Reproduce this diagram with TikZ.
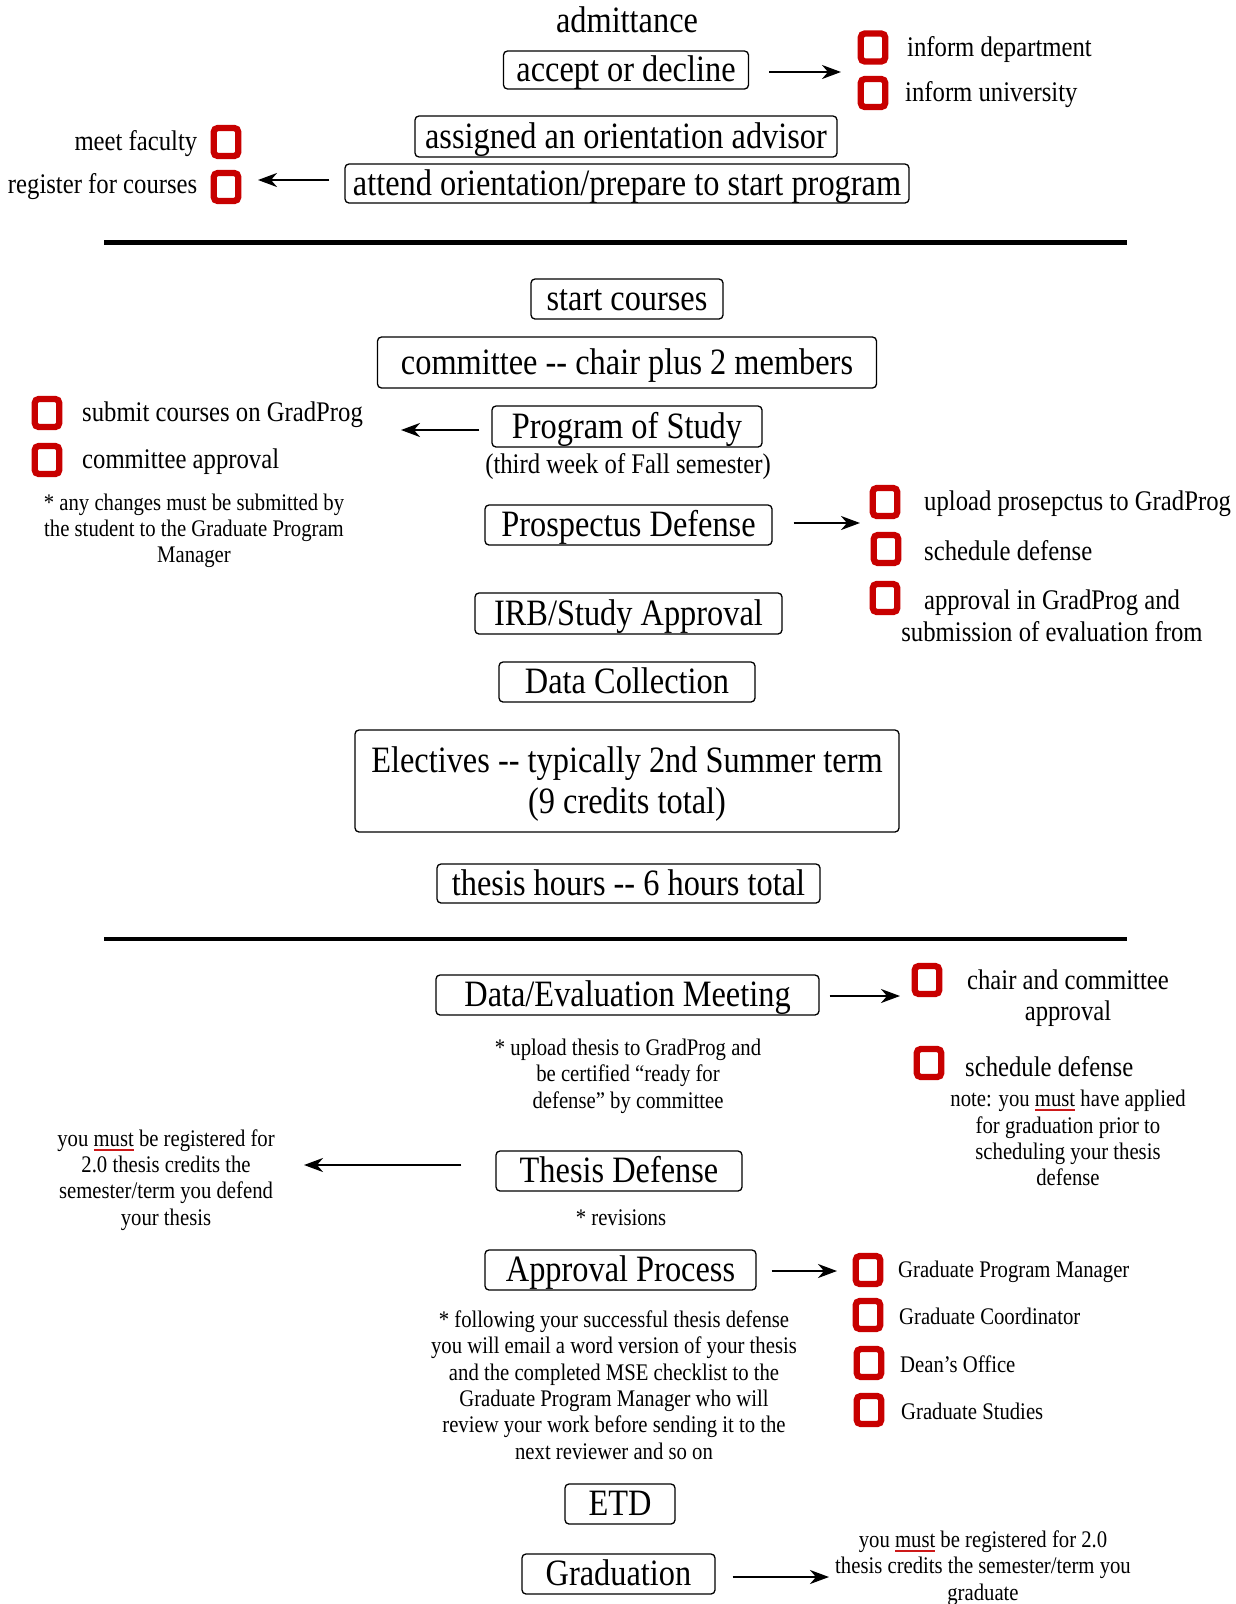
\documentclass[tikz,border=0pt]{standalone}
\usepackage{fontspec}
\setmainfont[FakeStretch=0.87]{Liberation Serif}
\usetikzlibrary{arrows.meta}
\definecolor{boxred}{RGB}{200,0,0}
\definecolor{ulred}{RGB}{205,25,25}
\newcommand\fL{\fontsize{37.2pt}{41pt}\selectfont}
\newcommand\fM{\fontsize{28.4pt}{31.5pt}\selectfont}
\newcommand\fS{\fontsize{23.8pt}{26.3pt}\selectfont}
\newsavebox\ulbox
\newcommand\redul[1]{\sbox\ulbox{#1}\rlap{\textcolor{ulred}{\rule[-0.2em]{\wd\ulbox}{2pt}}}\usebox\ulbox}
\begin{document}
\begin{tikzpicture}[x=1pt,y=-1pt,
  boxbase/.style={draw, line width=1.3pt, rounded corners=4pt, inner sep=0pt, font=\fL},
  stepbox/.style={boxbase, text height=28.4pt, text depth=5.1pt},
  chk/.style={draw=boxred, line width=6.3pt, rounded corners=4pt, minimum width=24.5pt, minimum height=28pt, inner sep=0pt},
  medtxt/.style={font=\fM, inner sep=0pt},
  smtxt/.style={font=\fS, inner sep=0pt, align=center},
  arr/.style={line width=2.4pt, -{Stealth[length=19pt,width=14pt,inset=6pt]}},
  rule/.style={line width=4.5pt}]
\useasboundingbox (0,0) rectangle (1236,1604);

% ---------- top section ----------
\node[font=\fL, inner sep=0pt] (admit) at (627,20) {admittance};
\node[stepbox, minimum width=245pt, minimum height=38pt] (accept) at (626,70) {accept or decline};
\node[chk] (cbA1) at (873,47.5) {};
\node[chk] (cbA2) at (873,93) {};
\node[medtxt, anchor=west] (infdept) at (907,50) {inform department};
\node[medtxt, anchor=west] (infuni) at (905,95) {inform university};
\coordinate (e1) at (841,72);
\draw[arr, shorten <=20pt] (e1 -| accept.east) -- (e1);

\node[stepbox, minimum width=422pt, minimum height=41pt] (assigned) at (626,136.5) {assigned an orientation advisor};
\node[stepbox, minimum width=564pt, minimum height=39pt] (attend) at (627,183.5) {attend orientation/prepare to start program};
\node[chk] (cbM) at (226,142) {};
\node[chk] (cbR) at (226,187) {};
\node[medtxt, anchor=east] (meet) at (197.5,143.5) {meet faculty};
\node[medtxt, anchor=east] (register) at (197.5,186.5) {register for courses};
\coordinate (e2) at (258,180);
\draw[arr, shorten <=15pt] (e2 -| attend.west) -- (e2);

\coordinate (r1a) at (104,242.5);
\coordinate (r1b) at (1127,242.5);
\draw[rule] (r1a) -- (r1b);

% ---------- middle section ----------
\node[stepbox, minimum width=192pt, minimum height=40pt] (start) at (627,299) {start courses};
\node[stepbox, minimum width=499pt, minimum height=51pt] (committee) at (627,362.5) {committee -{}- chair plus 2 members};
\node[stepbox, minimum width=270pt, minimum height=41pt] (program) at (627,426.5) {Program of Study};
\node[medtxt] (third) at (628,467) {(third week of Fall semester)};
\node[chk] (cbS) at (47,413) {};
\node[chk] (cbC) at (47,460) {};
\node[medtxt, anchor=west] (submit) at (82,415) {submit courses on GradProg};
\node[medtxt, anchor=west] (commappr) at (82,462) {committee approval};
\node[smtxt] (note1) at (194,531) {* any changes must be submitted by\\the student to the Graduate Program\\Manager};
\coordinate (e3) at (401,430);
\draw[arr, shorten <=12pt] (e3 -| program.west) -- (e3);

\node[stepbox, minimum width=287pt, minimum height=40pt] (prosp) at (628.5,525) {Prospectus Defense};
\node[chk] (cbU) at (885,502) {};
\node[chk] (cbSD) at (886,549) {};
\node[chk] (cbAp) at (885,598) {};
\node[medtxt, anchor=west] (upload) at (924,504) {upload prosepctus to GradProg};
\node[medtxt, anchor=west] (sched1) at (924,551) {schedule defense};
\node[medtxt, align=center] (apprtxt) at (1052,616) {approval in GradProg and\\submission of evaluation from};
\coordinate (e4) at (860,523);
\draw[arr, shorten <=21pt] (e4 -| prosp.east) -- (e4);

\node[stepbox, minimum width=307pt, minimum height=41pt] (irb) at (628.5,613.5) {IRB/Study Approval};
\node[stepbox, minimum width=256pt, minimum height=40pt] (datacoll) at (627,682) {Data Collection};
\node[boxbase, align=center, minimum width=544pt, minimum height=102pt] (electives) at (627,781) {\rule{0pt}{32pt}Electives -{}- typically 2nd Summer term\\(9 credits total)};
\node[stepbox, minimum width=383pt, minimum height=39pt] (thours) at (628.5,883.5) {thesis hours -{}- 6 hours total};

\coordinate (r2a) at (104,939);
\coordinate (r2b) at (1127,939);
\draw[rule] (r2a) -- (r2b);

% ---------- bottom section ----------
\node[stepbox, minimum width=383pt, minimum height=40pt] (dataeval) at (627.5,995) {Data/Evaluation Meeting};
\node[chk] (cbCh) at (927,980) {};
\node[chk] (cbSch) at (929,1063) {};
\node[medtxt, align=center] (chair) at (1068,998) {chair and committee\\approval};
\node[medtxt, anchor=west] (sched2) at (965,1067) {schedule defense};
\node[smtxt] (note2) at (1068,1138) {note: you \redul{must} have applied\\for graduation prior to\\scheduling your thesis\\defense};
\coordinate (e5) at (900,996);
\draw[arr, shorten <=10pt] (e5 -| dataeval.east) -- (e5);

\node[smtxt] (upthesis) at (628,1076) {* upload thesis to GradProg and\\be certified “ready for\\defense” by committee};

\node[stepbox, minimum width=246pt, minimum height=40pt] (thdef) at (619,1171) {Thesis Defense};
\node[smtxt] (leftnote) at (166,1180) {you \redul{must} be registered for\\2.0 thesis credits the\\semester/term you defend\\your thesis};
\coordinate (e6) at (304,1165);
\draw[arr, shorten <=34pt] (e6 -| thdef.west) -- (e6);
\node[smtxt] (revis) at (621,1218) {* revisions};

\node[stepbox, minimum width=271pt, minimum height=40pt] (approval) at (620.5,1270) {Approval Process};
\node[chk] (cbG1) at (868,1270) {};
\node[chk] (cbG2) at (868,1315) {};
\node[chk] (cbG3) at (869,1363) {};
\node[chk] (cbG4) at (869,1410) {};
\node[smtxt, anchor=west] (gpm) at (898,1271.5) {Graduate Program Manager};
\node[smtxt, anchor=west] (gc) at (899,1316.5) {Graduate Coordinator};
\node[smtxt, anchor=west] (dean) at (900,1364.5) {Dean’s Office};
\node[smtxt, anchor=west] (gs) at (901,1411.5) {Graduate Studies};
\coordinate (e7) at (837,1271);
\draw[arr, shorten <=15pt] (e7 -| approval.east) -- (e7);
\node[smtxt] (apprnote) at (614,1385) {* following your successful thesis defense\\you will email a word version of your thesis\\and the completed MSE checklist to the\\Graduate Program Manager who will\\review your work before sending it to the\\next reviewer and so on};

\node[stepbox, minimum width=110pt, minimum height=40pt] (etd) at (620,1504) {ETD};
\node[stepbox, minimum width=193pt, minimum height=40pt] (grad) at (618.5,1574) {Graduation};
\node[smtxt] (finalnote) at (983,1568) {you \redul{must} be registered for 2.0\\thesis credits the semester/term you\\graduate};
\coordinate (e8) at (829,1577);
\draw[arr, shorten <=17pt] (e8 -| grad.east) -- (e8);
\end{tikzpicture}
\end{document}
